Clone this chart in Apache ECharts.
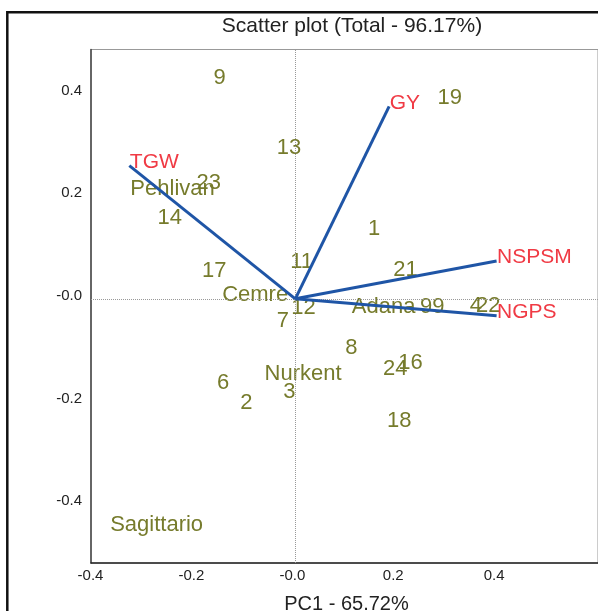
<!DOCTYPE html>
<html><head><meta charset="utf-8">
<script src="https://cdn.jsdelivr.net/npm/echarts@6/dist/echarts.min.js"></script>
<style>html,body{margin:0;padding:0;background:#fff}#c{width:598px;height:611px}</style>
</head><body><div id="c"></div>
<script>
// Genotype scores (label anchors)
const genoNames = ['9','13','23','Pehlivan','14','17','11','Cemre','12','7','19','1','21','Adana','99','4','22','8','24','16','Nurkent','6','2','3','18','Sagittario'];
const genoX = [-0.163,-0.038,-0.197,-0.328,-0.274,-0.186,-0.011,-0.146,-0.009,-0.038,0.281,0.143,0.193,0.111,0.246,0.345,0.357,0.098,0.173,0.203,-0.062,-0.156,-0.110,-0.025,0.181,-0.368];
const genoY = [0.423,0.288,0.219,0.208,0.151,0.047,0.066,0.001,-0.024,-0.050,0.384,0.130,0.050,-0.022,-0.022,-0.020,-0.020,-0.102,-0.143,-0.132,-0.154,-0.170,-0.209,-0.189,-0.245,-0.448];
// Trait vectors
const varNames = ['GY','TGW','NSPSM','NGPS'];
const varX = [0.186,-0.329,0.399,0.399];
const varY = [0.375,0.2595,0.0736,-0.033];
// Tick labels
const xTicks = [-0.4,-0.2,0,0.2,0.4];
const yTicks = [-0.4,-0.2,0,0.2,0.4];
const titleText = 'Scatter plot (Total - 96.17%)';
const xName = 'PC1 - 65.72%';

const FONT = '"Liberation Sans", Arial, sans-serif';
const OLIVE = '#767b2c', RED = '#f03a44', BLUE = '#1f55a6';
const fmt = v => (v === 0 ? '-0.0' : v.toFixed(1));

const chart = echarts.init(document.getElementById('c'), null, {renderer: 'canvas'});
const series = [];
series.push({
  type: 'scatter', z: 3,
  data: genoNames.map((n, i) => [genoX[i], genoY[i], n]),
  symbolSize: 1, itemStyle: {color: 'rgba(0,0,0,0)', opacity: 1},
  label: {show: true, position: 'right', distance: 0, offset: [0, -3.5],
    formatter: p => p.data[2], color: OLIVE, fontSize: 22, fontFamily: FONT},
  markLine: {silent: true, symbol: ['none', 'none'], label: {show: false},
    lineStyle: {color: '#999', type: 'dotted', width: 1, opacity: 1},
    data: [{xAxis: 0}, {yAxis: 0}]},
  animation: false
});
varNames.forEach((n, i) => {
  series.push({
    type: 'line', z: 5, symbol: 'none', animation: false,
    data: [[0, 0], [varX[i], varY[i]]],
    lineStyle: {color: BLUE, width: 3}
  });
});
series.push({
  type: 'scatter', z: 4,
  data: varNames.map((n, i) => [varX[i], varY[i], n]),
  symbolSize: 1, itemStyle: {color: 'rgba(0,0,0,0)', opacity: 1},
  label: {show: true, position: 'right', distance: 0, offset: [0, -3.5],
    formatter: p => p.data[2], color: RED, fontSize: 21, fontFamily: FONT},
  animation: false
});

chart.setOption({
  animation: false,
  grid: {left: 91, top: 49.5, width: 510.5, height: 513.5, show: true, borderColor: '#999', borderWidth: 1},
  xAxis: {type: 'value', min: -0.405, max: 0.6,
    axisLine: {show: true, onZero: false, lineStyle: {color: '#222', width: 1.5}},
    axisTick: {show: false}, splitLine: {show: false},
    axisLabel: {customValues: xTicks, formatter: fmt, fontSize: 15, color: '#222', fontFamily: FONT, margin: 5, padding: [0, 6, 0, 0]}},
  yAxis: {type: 'value', min: -0.515, max: 0.486,
    axisLine: {show: true, onZero: false, lineStyle: {color: '#444', width: 1.5}},
    axisTick: {show: false}, splitLine: {show: false},
    axisLabel: {customValues: yTicks, formatter: fmt, fontSize: 15, color: '#222', fontFamily: FONT, margin: 9,
      verticalAlign: 'bottom', lineHeight: 6}},
  graphic: [
    {type: 'rect', shape: {x: 7.3, y: 12.3, width: 800, height: 800}, style: {fill: 'none', stroke: '#111', lineWidth: 2.5}, silent: true},
    {type: 'text', x: 352, y: 26, style: {text: titleText, font: '21px ' + FONT, fill: '#222', textAlign: 'center', textVerticalAlign: 'middle'}},
    {type: 'text', x: 346.5, y: 604, style: {text: xName, font: '20px ' + FONT, fill: '#222', textAlign: 'center', textVerticalAlign: 'middle'}}
  ],
  series: series
});
</script></body></html>
